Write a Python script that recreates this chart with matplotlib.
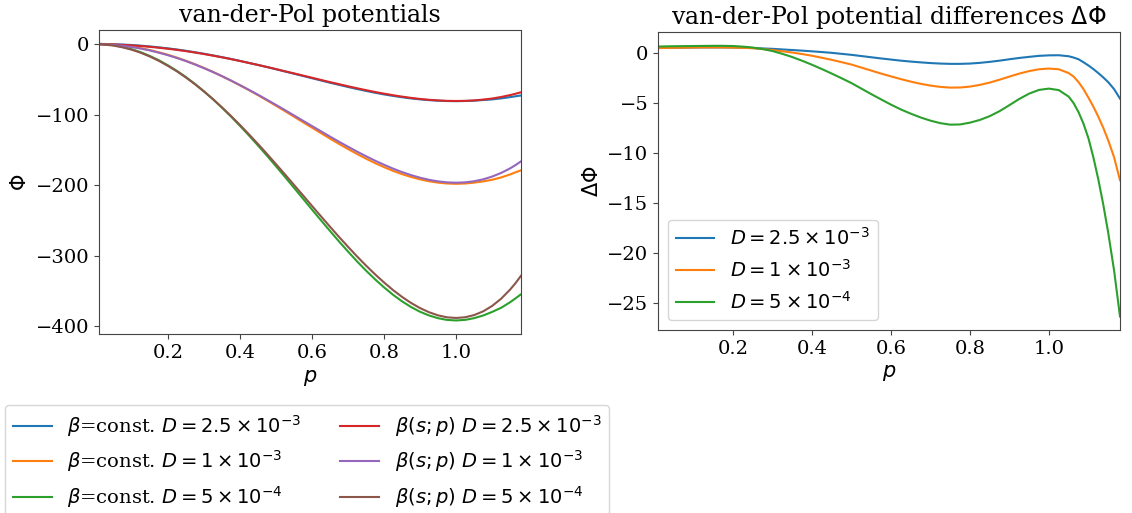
import matplotlib
matplotlib.use("Agg")
import matplotlib.pyplot as plt

plt.rcParams['font.family'] = ['DejaVu Serif']
plt.rcParams['mathtext.fontset'] = 'dejavusans'
plt.rcParams['axes.edgecolor'] = '#444444'
plt.rcParams['xtick.color'] = '#444444'
plt.rcParams['ytick.color'] = '#444444'
plt.rcParams['xtick.labelcolor'] = 'black'
plt.rcParams['ytick.labelcolor'] = 'black'

# grid of amplitudes p (left panel)
p = [0.01, 0.025, 0.05, 0.075, 0.10, 0.125, 0.15, 0.175, 0.20, 0.225, 0.25, 0.275,
     0.30, 0.325, 0.35, 0.375, 0.40, 0.425, 0.45, 0.475, 0.50, 0.525, 0.55, 0.575,
     0.60, 0.625, 0.65, 0.675, 0.70, 0.725, 0.75, 0.775, 0.80, 0.825, 0.85, 0.875,
     0.90, 0.925, 0.95, 0.975, 1.00, 1.025, 1.05, 1.075, 1.10, 1.125, 1.15, 1.165, 1.18]

# potentials, beta = const.
phi_const_25e3 = [0.5, 0.41, 0.12, -0.37, -1.05, -1.94, -3.04, -4.34, -5.75, -7.37, -9.2,
                  -11.24, -13.38, -15.74, -18.2, -20.76, -23.53, -26.4, -29.28, -32.28,
                  -35.38, -38.6, -41.72, -44.94, -48.15, -51.36, -54.55, -57.53, -60.6,
                  -63.45, -66.18, -68.78, -71.15, -73.28, -75.18, -76.86, -78.22, -79.29,
                  -80.08, -80.58, -80.73, -80.52, -80.02, -79.12, -78.25, -76.8, -75.0,
                  -73.8, -72.65]
phi_const_1e3 = [0.5, 0.31, -0.48, -1.67, -3.35, -5.54, -8.14, -11.34, -14.86, -18.88,
                 -23.32, -28.2, -33.5, -39.12, -45.15, -51.5, -58.17, -65.07, -72.18, -79.61,
                 -87.15, -94.85, -102.65, -110.55, -118.33, -126.1, -133.85, -141.37, -148.65,
                 -155.68, -162.35, -168.64, -174.35, -179.68, -184.35, -188.36, -191.75,
                 -194.45, -196.4, -197.62, -198.05, -197.62, -196.4, -194.6, -192.3, -189.0,
                 -184.7, -181.7, -178.9]
phi_const_5e4 = [0.65, 0.16, -1.22, -3.71, -7.0, -11.29, -16.58, -22.68, -29.8, -37.66,
                 -46.45, -56.1, -66.6, -77.78, -89.8, -102.37, -115.57, -129.3, -143.45,
                 -158.02, -173.0, -188.15, -203.6, -219.03, -234.55, -249.83, -264.95,
                 -279.83, -294.15, -308.1, -321.25, -333.63, -345.05, -355.58, -364.9,
                 -373.0, -379.7, -384.98, -388.85, -391.28, -392.05, -391.2, -388.75, -385.0,
                 -379.9, -374.0, -366.1, -360.6, -354.9]

# potentials, beta(s; p)
phi_var_25e3 = [0.0, -0.1, -0.4, -0.9, -1.6, -2.5, -3.6, -4.9, -6.3, -7.9, -9.7, -11.7,
                -13.8, -16.1, -18.5, -21.0, -23.7, -26.5, -29.3, -32.2, -35.2, -38.3, -41.3,
                -44.4, -47.5, -50.6, -53.7, -56.6, -59.6, -62.4, -65.1, -67.7, -70.1, -72.3,
                -74.3, -76.1, -77.6, -78.8, -79.7, -80.3, -80.5, -80.3, -79.7, -78.5, -77.0,
                -74.8, -72.1, -70.2, -68.1]
phi_var_1e3 = [0.0, -0.2, -1.0, -2.2, -3.9, -6.1, -8.7, -11.9, -15.4, -19.4, -23.8, -28.6,
               -33.8, -39.3, -45.2, -51.4, -57.9, -64.6, -71.5, -78.7, -86.0, -93.4, -100.9,
               -108.5, -116.0, -123.5, -131.0, -138.3, -145.4, -152.3, -158.9, -165.2, -171.0,
               -176.5, -181.4, -185.7, -189.4, -192.4, -194.6, -196.0, -196.5, -196.0, -194.4,
               -191.7, -187.8, -182.6, -176.1, -171.4, -166.2]
phi_var_5e4 = [0.0, -0.5, -1.9, -4.4, -7.7, -12.0, -17.3, -23.4, -30.5, -38.3, -47.0, -56.5,
               -66.8, -77.7, -89.4, -101.6, -114.4, -127.7, -141.4, -155.5, -170.0, -184.6,
               -199.5, -214.4, -229.4, -244.2, -258.9, -273.4, -287.4, -301.1, -314.1, -326.5,
               -338.1, -348.9, -358.6, -367.2, -374.5, -380.4, -384.8, -387.6, -388.5, -387.5,
               -384.4, -379.1, -371.4, -361.1, -348.1, -338.9, -328.6]

# grid of amplitudes p (right panel)
p_diff = [0.01, 0.025, 0.05, 0.075, 0.10, 0.125, 0.15, 0.175, 0.20, 0.225, 0.25, 0.275,
          0.30, 0.325, 0.35, 0.375, 0.40, 0.425, 0.45, 0.475, 0.50, 0.525, 0.55, 0.575,
          0.60, 0.625, 0.65, 0.675, 0.70, 0.725, 0.75, 0.775, 0.80, 0.825, 0.85, 0.875,
          0.90, 0.925, 0.95, 0.975, 1.00, 1.025, 1.05, 1.0625, 1.075, 1.0875, 1.10,
          1.1125, 1.125, 1.1375, 1.15, 1.165, 1.18]

# potential differences
dphi_25e3 = [0.50, 0.51, 0.52, 0.535, 0.55, 0.56, 0.56, 0.56, 0.55, 0.53, 0.50, 0.46, 0.42,
             0.36, 0.30, 0.24, 0.17, 0.10, 0.02, -0.08, -0.18, -0.30, -0.42, -0.54, -0.65,
             -0.76, -0.85, -0.93, -1.00, -1.05, -1.08, -1.08, -1.05, -0.98, -0.88, -0.76,
             -0.62, -0.49, -0.38, -0.28, -0.23, -0.22, -0.32, -0.45, -0.62, -0.92, -1.24,
             -1.6, -2.0, -2.43, -2.9, -3.6, -4.55]
dphi_1e3 = [0.50, 0.51, 0.52, 0.535, 0.55, 0.56, 0.56, 0.56, 0.54, 0.52, 0.48, 0.40, 0.30,
            0.18, 0.05, -0.10, -0.27, -0.47, -0.68, -0.91, -1.15, -1.45, -1.75, -2.05, -2.33,
            -2.60, -2.85, -3.07, -3.25, -3.38, -3.45, -3.44, -3.35, -3.18, -2.95, -2.66,
            -2.35, -2.05, -1.80, -1.62, -1.55, -1.62, -2.00, -2.35, -2.90, -3.6, -4.45,
            -5.35, -6.35, -7.45, -8.7, -10.4, -12.7]
dphi_5e4 = [0.65, 0.66, 0.68, 0.69, 0.70, 0.71, 0.72, 0.72, 0.70, 0.64, 0.55, 0.40, 0.20,
            -0.08, -0.40, -0.77, -1.17, -1.60, -2.05, -2.52, -3.00, -3.55, -4.10, -4.63,
            -5.15, -5.63, -6.05, -6.43, -6.75, -7.00, -7.15, -7.13, -6.95, -6.68, -6.30,
            -5.80, -5.20, -4.58, -4.05, -3.68, -3.55, -3.70, -4.35, -5.0, -5.9, -7.05, -8.5,
            -10.4, -12.6, -15.1, -17.9, -21.7, -26.3]

d_labels = [r'$D=2.5\times10^{-3}$', r'$D=1\times10^{-3}$', r'$D=5\times10^{-4}$']
xticks = [0.2, 0.4, 0.6, 0.8, 1.0]

fig = plt.figure(figsize=(11.32, 5.13), dpi=100)
ax1 = fig.add_axes([99.3 / 1132, 1 - 334.3 / 513, 421.7 / 1132, 304.3 / 513])
ax2 = fig.add_axes([658 / 1132, 1 - 330 / 513, 462 / 1132, 297.7 / 513])

handles = []
for y, c, lab in zip([phi_const_25e3, phi_const_1e3, phi_const_5e4], ['C0', 'C1', 'C2'], d_labels):
    h, = ax1.plot(p, y, color=c, lw=1.5, label=r'$\beta$=const. ' + lab)
    handles.append(h)
for y, c, lab in zip([phi_var_25e3, phi_var_1e3, phi_var_5e4], ['C3', 'C4', 'C5'], d_labels):
    h, = ax1.plot(p, y, color=c, lw=1.5, label=r'$\beta(s;p)$ ' + lab)
    handles.append(h)

ax1.set_xlim(p[0], p[-1])
ax1.set_xticks(xticks)
ax1.set_yticks([0, -100, -200, -300, -400])
ax1.tick_params(labelsize=14)
ax1.set_title('van-der-Pol potentials', fontsize=17)
ax1.set_xlabel(r'$p$', fontsize=15)
ax1.set_ylabel(r'$\Phi$', fontsize=15)

for y, c, lab in zip([dphi_25e3, dphi_1e3, dphi_5e4], ['C0', 'C1', 'C2'], d_labels):
    ax2.plot(p_diff, y, color=c, lw=1.5, label=lab)
ax2.set_xlim(p_diff[0], p_diff[-1])
ax2.set_xticks(xticks)
ax2.set_yticks([0, -5, -10, -15, -20, -25])
ax2.tick_params(labelsize=14)
ax2.set_title(r'van-der-Pol potential differences $\Delta\Phi$', fontsize=17)
ax2.set_xlabel(r'$p$', fontsize=15)
ax2.set_ylabel(r'$\Delta\Phi$', fontsize=15)
ax2.legend(loc='lower left', fontsize=14)

fig.legend(handles=handles, ncol=2, fontsize=14, loc='upper left',
           bbox_to_anchor=(5 / 1132, 1 - 405 / 513), borderaxespad=0)

fig.savefig('out.png', dpi=100)
